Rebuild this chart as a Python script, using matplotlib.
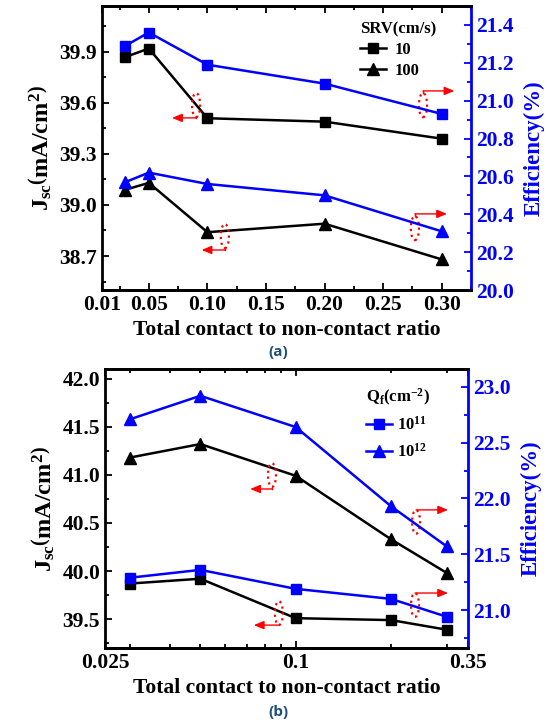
import matplotlib
matplotlib.use('Agg')
import matplotlib.pyplot as plt
from matplotlib.patches import Ellipse
from matplotlib.ticker import MultipleLocator, FixedLocator, NullFormatter, LogLocator

plt.rcParams['font.family'] = 'Liberation Serif'
plt.rcParams['font.weight'] = 'bold'
plt.rcParams['axes.labelweight'] = 'bold'
plt.rcParams['mathtext.fontset'] = 'custom'
plt.rcParams['mathtext.rm'] = 'Liberation Serif:bold'
plt.rcParams['mathtext.it'] = 'Liberation Serif:bold'
plt.rcParams['mathtext.bf'] = 'Liberation Serif:bold'

# contact ratio (x) for both panels
ratio = [0.03, 0.05, 0.1, 0.2, 0.3]

# panel (a): SRV 10 and 100 cm/s
jsc_srv10 = [39.87, 39.92, 39.51, 39.49, 39.39]
jsc_srv100 = [39.09, 39.13, 38.84, 38.89, 38.68]
eff_srv10 = [21.29, 21.36, 21.19, 21.09, 20.93]
eff_srv100 = [20.57, 20.62, 20.56, 20.50, 20.31]

# panel (b): Qf 1e11 and 1e12 cm^-2
jsc_qf11 = [39.87, 39.92, 39.51, 39.49, 39.39]
jsc_qf12 = [41.18, 41.32, 40.99, 40.33, 39.98]
eff_qf11 = [21.29, 21.36, 21.19, 21.10, 20.94]
eff_qf12 = [22.71, 22.92, 22.64, 21.93, 21.57]

xticks_a = [0.01, 0.05, 0.10, 0.15, 0.20, 0.25, 0.30]
xticks_b = [0.025, 0.1, 0.35]

BLUE = '#0000ff'
LW = 1.8
MS = 7


def mark(ax, cx, cy, ay, tipx):
    # dotted ellipse + bent red arrow pointing to the axis
    w, h = 0.022, 0.085
    ax.add_patch(Ellipse((cx, cy), w, h, transform=ax.transAxes, fill=False,
                         ec='red', ls=':', lw=1.6, zorder=5, clip_on=False))
    y0 = cy - h / 2 if ay < cy else cy + h / 2
    ax.plot([cx, cx], [y0, ay], color='red', lw=1.0, transform=ax.transAxes,
            zorder=5, clip_on=False)
    ax.annotate('', xy=(tipx, ay), xytext=(cx, ay), xycoords='axes fraction',
                arrowprops=dict(arrowstyle='-|>,head_width=0.25,head_length=0.6',
                                color='red', lw=1.0, shrinkA=0, shrinkB=0), zorder=5)


def style(ax, ax2):
    ax.tick_params(which='both', direction='in', top=True, width=1.3, labelsize=15.5)
    ax.tick_params(which='major', length=5)
    ax.tick_params(which='minor', length=3)
    ax2.tick_params(which='both', direction='in', colors=BLUE, width=1.3, labelsize=15.5)
    ax2.tick_params(which='major', length=5)
    ax2.tick_params(which='minor', length=3)
    for s in ax.spines.values():
        s.set_linewidth(2)
    for s in ax2.spines.values():
        s.set_linewidth(2)
    ax2.spines['right'].set_color(BLUE)
    ax2.spines['left'].set_visible(False)
    ax.spines['right'].set_visible(False)


fig = plt.figure(figsize=(5.53, 7.22), dpi=100)

# ---------------- panel (a)
ax = fig.add_axes([0.1844, 0.5983, 0.6673, 0.3934])
ax2 = ax.twinx()
ax.plot(ratio, jsc_srv10, '-s', color='black', lw=LW, ms=MS, label='10')
ax.plot(ratio, jsc_srv100, '-^', color='black', lw=LW, ms=MS + 1, label='100')
ax2.plot(ratio, eff_srv10, '-s', color=BLUE, lw=LW, ms=MS)
ax2.plot(ratio, eff_srv100, '-^', color=BLUE, lw=LW, ms=MS + 1)
ax.set_xlim(0.01, 0.325)
ax.set_ylim(38.5, 40.17)
ax2.set_ylim(20.0, 21.5)
ax.xaxis.set_major_locator(FixedLocator(xticks_a))
ax.set_xticklabels(['%.2f' % t for t in xticks_a])
ax.xaxis.set_minor_locator(MultipleLocator(0.025))
ax.yaxis.set_major_locator(MultipleLocator(0.3))
ax.yaxis.set_minor_locator(MultipleLocator(0.15))
ax2.yaxis.set_major_locator(MultipleLocator(0.2))
ax2.yaxis.set_minor_locator(MultipleLocator(0.1))
style(ax, ax2)
ax.set_ylabel(r'$J_{sc}\left(mA/cm^2\right)$', fontsize=17.5, labelpad=4)
ax2.set_ylabel('Efficiency(%)', fontsize=16.5, color=BLUE, labelpad=7)
ax.set_xlabel('Total contact to non-contact ratio', fontsize=15.5, labelpad=4)
leg = ax.legend(loc='upper left', bbox_to_anchor=(0.68, 0.97), frameon=False,
                title='SRV(cm/s)', fontsize=12, title_fontsize=12,
                handlelength=1.6, handletextpad=0.5, labelspacing=0.3,
                alignment='left', borderaxespad=0)
mark(ax, 0.255, 0.651, 0.606, 0.19)
mark(ax, 0.333, 0.190, 0.141, 0.27)
mark(ax, 0.870, 0.651, 0.701, 0.955)
mark(ax, 0.848, 0.218, 0.268, 0.935)
fig.text(0.503, 0.512, '(a)', ha='center', va='center', fontsize=11,
         color='#1f4e79', family='Open Sans', weight='bold')

# ---------------- panel (b)
bx = fig.add_axes([0.1899, 0.1025, 0.6564, 0.3864])
bx2 = bx.twinx()
bx.plot(ratio, jsc_qf11, '-s', color='black', lw=LW, ms=MS)
bx.plot(ratio, jsc_qf12, '-^', color='black', lw=LW, ms=MS + 1)
bx2.plot(ratio, eff_qf11, '-s', color=BLUE, lw=LW, ms=MS, label=r'$10^{11}$')
bx2.plot(ratio, eff_qf12, '-^', color=BLUE, lw=LW, ms=MS + 1, label=r'$10^{12}$')
bx.set_xscale('log')
bx.set_xlim(0.025, 0.35)
bx.set_ylim(39.2, 42.1)
bx2.set_ylim(20.66, 23.16)
bx.xaxis.set_major_locator(FixedLocator(xticks_b))
bx.set_xticklabels(['0.025', '0.1', '0.35'])
bx.xaxis.set_minor_locator(LogLocator(subs=range(2, 10)))
bx.xaxis.set_minor_formatter(NullFormatter())
bx.yaxis.set_major_locator(MultipleLocator(0.5))
bx.yaxis.set_minor_locator(MultipleLocator(0.25))
bx2.yaxis.set_major_locator(MultipleLocator(0.5))
bx2.yaxis.set_minor_locator(MultipleLocator(0.25))
style(bx, bx2)
bx.set_ylabel(r'$J_{sc}\left(mA/cm^2\right)$', fontsize=17.5, labelpad=4)
bx2.set_ylabel('Efficiency(%)', fontsize=16.5, color=BLUE, labelpad=7)
bx.set_xlabel('Total contact to non-contact ratio', fontsize=15.5, labelpad=4)
bx2.legend(loc='upper left', bbox_to_anchor=(0.70, 0.96), frameon=False,
           title=r'Q$_f$(cm$^{-2}$)', fontsize=12, title_fontsize=12,
           handlelength=1.6, handletextpad=0.3, labelspacing=0.5,
           alignment='left', borderaxespad=0)
mark(bx, 0.460, 0.620, 0.570, 0.40)
mark(bx, 0.479, 0.125, 0.082, 0.41)
mark(bx, 0.857, 0.452, 0.495, 0.945)
mark(bx, 0.854, 0.154, 0.197, 0.945)
fig.text(0.503, 0.014, '(b)', ha='center', va='center', fontsize=11,
         color='#1f4e79', family='Open Sans', weight='bold')

fig.savefig('out.png', dpi=100)
